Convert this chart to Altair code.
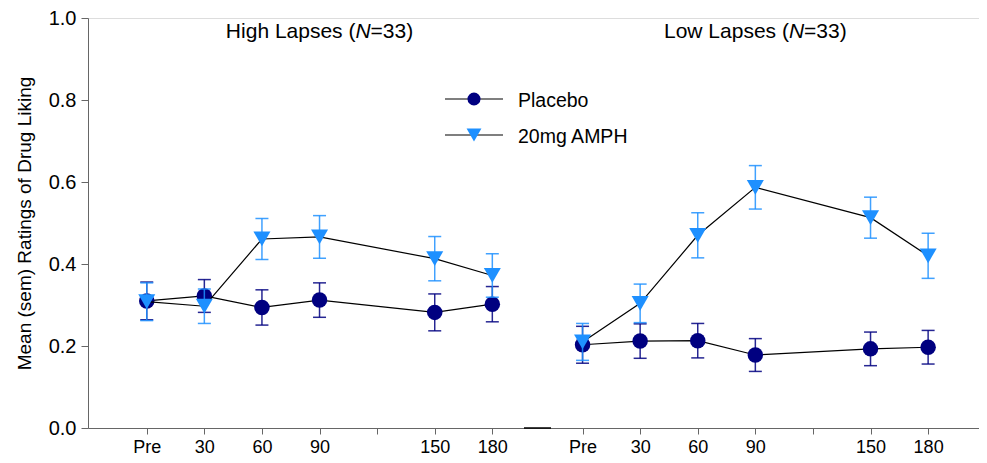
import altair as alt
import pandas as pd

# ---------------- data ----------------
times = [0, 30, 60, 90, 150, 180]
tick_times = [0, 30, 60, 90, 120, 150, 180]
tick_labels = ["Pre", "30", "60", "90", "", "150", "180"]
panels = ["High Lapses", "Low Lapses"]
panel_offset = [0, 227]          # panel shift along the shared time axis (minutes)
series = ["Placebo", "20mg AMPH"]
series_colors = ["#000080", "#1E90FF"]
series_shapes = ["circle", "triangle-down"]
series_sizes = [240, 290]
n_label = "33"

high_placebo_mean = [0.310, 0.322, 0.294, 0.312, 0.282, 0.302]
high_placebo_sem = [0.046, 0.040, 0.043, 0.042, 0.045, 0.043]
high_amph_mean = [0.308, 0.297, 0.461, 0.466, 0.413, 0.372]
high_amph_sem = [0.046, 0.042, 0.050, 0.052, 0.054, 0.053]
low_placebo_mean = [0.203, 0.212, 0.213, 0.178, 0.193, 0.197]
low_placebo_sem = [0.045, 0.042, 0.042, 0.040, 0.041, 0.041]
low_amph_mean = [0.210, 0.304, 0.470, 0.587, 0.513, 0.420]
low_amph_sem = [0.045, 0.047, 0.055, 0.053, 0.050, 0.055]

values = {
    ("High Lapses", "Placebo"): (high_placebo_mean, high_placebo_sem),
    ("High Lapses", "20mg AMPH"): (high_amph_mean, high_amph_sem),
    ("Low Lapses", "Placebo"): (low_placebo_mean, low_placebo_sem),
    ("Low Lapses", "20mg AMPH"): (low_amph_mean, low_amph_sem),
}

rows = []
for p, off in zip(panels, panel_offset):
    for s in series:
        m, e = values[(p, s)]
        for t, mv, ev in zip(times, m, e):
            rows.append({"panel": p, "series": s, "group": p + "|" + s,
                         "pos": t + off, "mean": mv, "lo": mv - ev, "hi": mv + ev})
df = pd.DataFrame(rows)

# ---------------- layout ----------------
W, H = 891, 410
FONT = "Liberation Sans"
AXIS_GRAY = "#666666"

tick_pos = []
tick_lab = {}
for off in panel_offset:
    for t, lab in zip(tick_times, tick_labels):
        tick_pos.append(t + off)
        tick_lab[t + off] = lab
label_expr = " : ".join(
    [f"datum.value == {v} ? '{l}'" for v, l in tick_lab.items()] + ["''"]
)

x_scale = alt.Scale(domain=[-30.6, 433.5], nice=False, zero=False)
y_scale = alt.Scale(domain=[0, 1], nice=False, zero=True)

x_axis = alt.Axis(values=tick_pos, labelExpr=label_expr, grid=False, title=None,
                  domainColor=AXIS_GRAY, tickColor=AXIS_GRAY, tickSize=6,
                  labelFontSize=18, labelColor="black", labelPadding=4,
                  labelOverlap=False, labelFlush=False, labelFont=FONT)
y_axis = alt.Axis(values=[0, 0.2, 0.4, 0.6, 0.8, 1.0], format=".1f", grid=False,
                  title="Mean (sem) Ratings of Drug Liking", titleFontSize=19,
                  titleFontWeight="normal", titleColor="black", titleFont=FONT,
                  titlePadding=14, domainColor=AXIS_GRAY, tickColor=AXIS_GRAY,
                  tickSize=7, labelFontSize=20, labelColor="black", labelPadding=5,
                  labelFont=FONT)

X = alt.X("pos:Q", scale=x_scale, axis=x_axis)
color = alt.Color("series:N", scale=alt.Scale(domain=series, range=series_colors), legend=None)
shape = alt.Shape("series:N", scale=alt.Scale(domain=series, range=series_shapes), legend=None)
size = alt.Size("series:N", scale=alt.Scale(domain=series, range=series_sizes), legend=None)

layers = []
for s in series:
    d = df[df["series"] == s]
    base = alt.Chart(d)
    layers.append(base.mark_rule(strokeWidth=1.5, opacity=0.85).encode(
        x=X, y=alt.Y("lo:Q", scale=y_scale, axis=y_axis), y2="hi:Q", color=color))
    for col in ["lo", "hi"]:
        layers.append(base.mark_tick(orient="horizontal", size=13, thickness=1.5, opacity=0.85).encode(
            x=X, y=alt.Y(f"{col}:Q", scale=y_scale, axis=y_axis), color=color))
    layers.append(base.mark_line(color="black", strokeWidth=1.2).encode(
        x=X, y=alt.Y("mean:Q", scale=y_scale, axis=y_axis), detail="group:N"))
    layers.append(base.mark_point(filled=True, opacity=1).encode(
        x=X, y=alt.Y("mean:Q", scale=y_scale, axis=y_axis), color=color, shape=shape, size=size))

# ---------------- panel titles with italic N ----------------
AW = {"H": 722, "i": 222, "g": 556, "h": 556, " ": 278, "L": 556, "a": 556, "p": 556,
      "s": 500, "e": 556, "(": 333, "N": 722, "=": 584, "3": 556, ")": 333, "o": 556,
      "w": 722}
TFS = 21


def tw(txt):
    return sum(AW.get(c, 556) for c in txt) / 1000 * TFS


for p, off in zip(panels, panel_offset):
    pre, nn, post = p + " (", "N", "=" + n_label + ")"
    total = tw(pre) + tw(nn) + tw(post)
    start = -total / 2
    tdf = pd.DataFrame({"pos": [90 + off], "yv": [1.0]})
    tb = alt.Chart(tdf)
    pieces = [(pre, start, "normal"), (nn, start + tw(pre), "italic"),
              (post, start + tw(pre) + tw(nn), "normal")]
    for txt, dx, style in pieces:
        layers.append(tb.mark_text(text=txt, align="left", baseline="alphabetic", dx=dx, dy=20,
                                   fontSize=TFS, font=FONT, fontStyle=style, color="black").encode(
            x=X, y=alt.Y("yv:Q", scale=y_scale, axis=y_axis)))

# ---------------- manual legend ----------------
one = pd.DataFrame({"k": [0]})
for i, (s, c, sh) in enumerate(zip(series, series_colors, series_shapes)):
    yy = 81 + i * 36
    lb = alt.Chart(one)
    layers.append(lb.mark_rule(color="black", strokeWidth=1.2).encode(
        x=alt.value(357), x2=alt.value(415), y=alt.value(yy)))
    layers.append(lb.mark_point(filled=True, size=170 if i == 0 else 220, opacity=1,
                                color=c, shape=sh).encode(
        x=alt.value(386), y=alt.value(yy)))
    layers.append(lb.mark_text(text=s, align="left", baseline="middle", fontSize=19.5,
                               font=FONT, color="black").encode(
        x=alt.value(430), y=alt.value(yy + 2)))

# axis break mark between panels
layers.append(alt.Chart(one).mark_rule(color="black", strokeWidth=1.5).encode(
    x=alt.value(436), x2=alt.value(463), y=alt.value(H)))

chart = alt.layer(*layers).properties(
    width=W, height=H,
    autosize=alt.AutoSizeParams(type="none"),
    padding={"left": 80, "top": 10, "right": 0, "bottom": 28},
).configure_view(stroke=None).configure(font=FONT)

chart.save("out.html", embed_options={"renderer": "svg", "actions": False})
